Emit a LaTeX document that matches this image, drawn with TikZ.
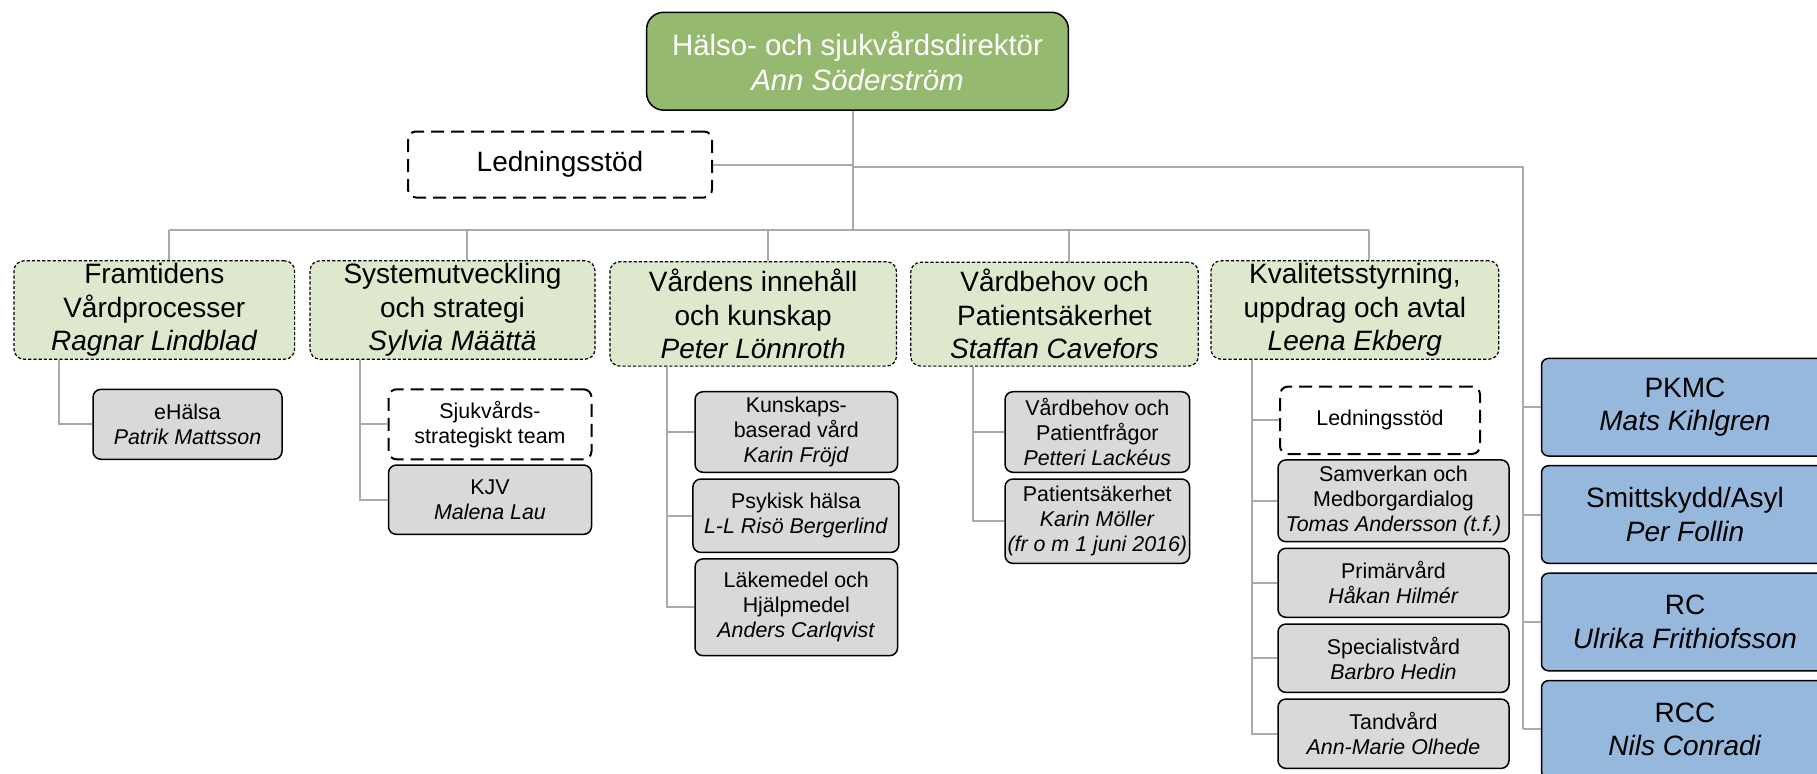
\documentclass[tikz,border=0pt]{standalone}
\usepackage{fontspec}
\setmainfont{Liberation Sans}
\usetikzlibrary{positioning}

\definecolor{dirgreen}{RGB}{150,185,112}
\definecolor{areagreen}{RGB}{221,232,205}
\definecolor{unitgray}{RGB}{217,217,217}
\definecolor{centreblue}{RGB}{151,184,221}
\definecolor{linkgray}{RGB}{170,170,170}

\begin{document}
\begin{tikzpicture}[x=0.5pt,y=-0.5pt,
    box/.style={align=center,inner sep=0pt},
    dirbox/.style={box,draw,line width=0.75pt,rounded corners=8.5pt,fill=dirgreen,text=white,
        font=\fontsize{14.7}{17.5}\selectfont},
    areabox/.style={box,draw,line width=0.6pt,dash pattern=on 1.6pt off 1pt,rounded corners=5pt,
        fill=areagreen,font=\fontsize{14}{16.75}\selectfont},
    stodbox/.style={box,draw,line width=1pt,dash pattern=on 6.5pt off 3.5pt,rounded corners=4pt,fill=white},
    unitbox/.style={box,draw,line width=0.75pt,rounded corners=4pt,fill=unitgray,
        font=\fontsize{10.7}{12.5}\selectfont},
    centrebox/.style={box,draw,line width=0.75pt,rounded corners=3.5pt,fill=centreblue,
        font=\fontsize{14}{16.75}\selectfont,minimum width=143.5pt,minimum height=48.8pt},
    link/.style={draw=linkgray,line width=1pt}]
    \useasboundingbox (0,0) rectangle (1817,773);
    \clip (0,0) rectangle (1817,773);

    \node[dirbox,minimum width=210.9pt,minimum height=48.9pt] (dir) at (857.5,61.2)
        {H\"also- och sjukv\aa rdsdirekt\"or\\\textit{Ann S\"oderstr\"om}};
    \node[stodbox,font=\fontsize{14}{16.75}\selectfont,minimum width=152pt,minimum height=33pt] (stod) at (560,164.5) {Ledningsst\"od};

    \node[areabox,minimum width=140.3pt,minimum height=49.2pt] (fram) at (154.3,310)
        {Framtidens\\V\aa rdprocesser\\\textit{Ragnar Lindblad}};
    \node[areabox,minimum width=142.5pt,minimum height=49.2pt] (sys) at (452.5,310)
        {Systemutveckling\\och strategi\\\textit{Sylvia M\"a\"att\"a}};
    \node[areabox,minimum width=143.3pt,minimum height=52.2pt] (inne) at (753.2,313.9)
        {V\aa rdens inneh\aa ll\\och kunskap\\\textit{Peter L\"onnroth}};
    \node[areabox,minimum width=143.8pt,minimum height=51.9pt] (vbeh) at (1054.5,314.2)
        {V\aa rdbehov och\\Patients\"akerhet\\\textit{Staffan Cavefors}};
    \node[areabox,minimum width=143.9pt,minimum height=49.2pt] (kval) at (1354.9,310)
        {Kvalitetsstyrning,\\uppdrag och avtal\\\textit{Leena Ekberg}};

    \node[unitbox,minimum width=94.5pt,minimum height=35pt] (ehal) at (187.5,424.3)
        {eH\"alsa\\\textit{Patrik Mattsson}};

    \node[stodbox,font=\fontsize{10.7}{12.5}\selectfont,minimum width=101.5pt,minimum height=35pt] (sjst) at (490,424.3)
        {Sjukv\aa rds-\\strategiskt team};
    \node[unitbox,minimum width=101.5pt,minimum height=34.7pt] (kjv) at (490,499.7)
        {KJV\\\textit{Malena Lau}};

    \node[unitbox,minimum width=101.3pt,minimum height=40.3pt] (kunsk) at (796.3,432)
        {Kunskaps-\\baserad v\aa rd\\\textit{Karin Fr\"ojd}};
    \node[unitbox,minimum width=103pt,minimum height=36.7pt] (psyk) at (795.9,515.7)
        {Psykisk h\"alsa\\\textit{L-L Ris\"o Bergerlind}};
    \node[unitbox,minimum width=101.3pt,minimum height=48.4pt] (lake) at (796.3,607.3)
        {L\"akemedel och\\Hj\"alpmedel\\\textit{Anders Carlqvist}};

    \node[unitbox,minimum width=92.3pt,minimum height=40.3pt] (vbpf) at (1097.3,432)
        {V\aa rdbehov och\\Patientfr\aa gor\\\textit{Petteri Lack\'eus}};
    \node[unitbox,minimum width=92.3pt,minimum height=42.2pt] (psak) at (1097.3,521.2)
        {Patients\"akerhet\\\textit{Karin M\"oller}\\\textit{(fr o m 1 juni 2016)}};

    \node[stodbox,font=\fontsize{10.7}{12.5}\selectfont,minimum width=100pt,minimum height=33.7pt] (stod2) at (1380,420.3) {Ledningsst\"od};
    \node[unitbox,minimum width=115.5pt,minimum height=40.9pt] (samv) at (1393.5,500.8)
        {Samverkan och\\Medborgardialog\\\textit{Tomas Andersson (t.f.)}};
    \node[unitbox,minimum width=115.5pt,minimum height=34.5pt] (prim) at (1393.5,582.8)
        {Prim\"arv\aa rd\\\textit{H\aa kan Hilm\'er}};
    \node[unitbox,minimum width=115.5pt,minimum height=34.2pt] (spec) at (1393.5,658.2)
        {Specialistv\aa rd\\\textit{Barbro Hedin}};
    \node[unitbox,minimum width=115.5pt,minimum height=34.7pt] (tand) at (1393.5,733.7)
        {Tandv\aa rd\\\textit{Ann-Marie Olhede}};

    \node[centrebox] (pkmc) at (1685,407.2) {PKMC\\\textit{Mats Kihlgren}};
    \node[centrebox] (smit) at (1685,514.5) {Smittskydd/Asyl\\\textit{Per Follin}};
    \node[centrebox] (rc) at (1685,622) {RC\\\textit{Ulrika Frithiofsson}};
    \node[centrebox] (rcc) at (1685,729.4) {RCC\\\textit{Nils Conradi}};

    \coordinate (bus) at (853,230);
    \coordinate (rail) at (1523,167);
    \draw[link] (dir.south -| bus) -- (bus);
    \draw[link] (stod.east) -- (stod.east -| bus);
    \draw[link] ([xshift=7.2pt]fram.north |- bus) -- ([xshift=7.2pt]kval.north |- bus);
    \foreach \n in {fram,sys,inne,vbeh,kval}
        \draw[link] ([xshift=7.2pt]\n.north |- bus) -- ([xshift=7.2pt]\n.north);
    \draw[link] (bus |- rail) -- (rail) -- (rail |- rcc.west);
    \foreach \n in {pkmc,smit,rc,rcc}
        \draw[link] (rail |- \n.west) -- (\n.west);

    \coordinate (r1) at ([xshift=23pt]fram.south west);
    \coordinate (r2) at ([xshift=25.5pt]sys.south west);
    \coordinate (r3) at ([xshift=28.75pt]inne.south west);
    \coordinate (r4) at ([xshift=31.4pt]vbeh.south west);
    \coordinate (r5) at ([xshift=20.75pt]kval.south west);
    \draw[link] (r1) |- (ehal.west);
    \foreach \c in {sjst,kjv} \draw[link] (r2) |- (\c.west);
    \foreach \c in {kunsk,psyk,lake} \draw[link] (r3) |- (\c.west);
    \foreach \c in {vbpf,psak} \draw[link] (r4) |- (\c.west);
    \foreach \c in {stod2,samv,prim,spec,tand} \draw[link] (r5) |- (\c.west);
\end{tikzpicture}
\end{document}
